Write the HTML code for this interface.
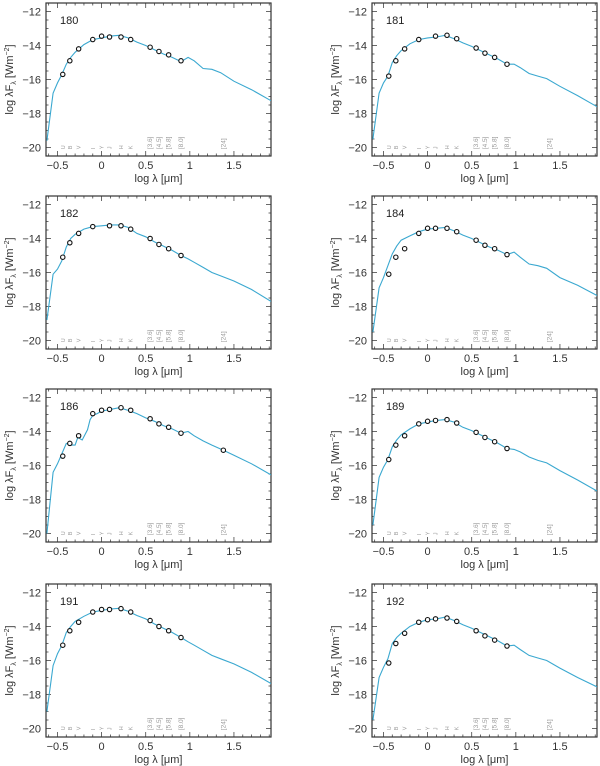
<!DOCTYPE html>
<html><head><meta charset="utf-8">
<style>
html,body{margin:0;padding:0;background:#fff;}
svg{display:block;font-family:"Liberation Sans",sans-serif;}
</style></head>
<body>
<svg id="fig" width="600" height="766" viewBox="0 0 600 766" xmlns="http://www.w3.org/2000/svg"></svg>
<script>
const panelIds = ["180","181","182","184","186","189","191","192"];
const gridX = [-0.62,-0.55,-0.5,-0.45,-0.4,-0.35,-0.3,-0.2,-0.1,0,0.1,0.2,0.3,0.4,0.5,0.6,0.7,0.8,0.9,0.98,1.05,1.15,1.25,1.35,1.5,1.7,1.92];
const gridX186 = [-0.62,-0.55,-0.5,-0.45,-0.4,-0.35,-0.3,-0.27,-0.22,-0.16,-0.13,-0.1,-0.05,0,0.1,0.2,0.3,0.4,0.5,0.6,0.7,0.8,0.9,0.98,1.05,1.15,1.25,1.38,1.5,1.7,1.92];
const curve180 = [-19.6,-16.8,-16.2,-15.7,-15.1,-14.7,-14.4,-13.95,-13.65,-13.55,-13.45,-13.4,-13.55,-13.8,-14.0,-14.25,-14.5,-14.7,-14.95,-14.7,-14.9,-15.35,-15.4,-15.6,-16.1,-16.6,-17.25];
const curve181 = [-19.5,-16.8,-16.2,-15.8,-15.0,-14.6,-14.3,-13.9,-13.65,-13.55,-13.5,-13.4,-13.6,-13.85,-14.05,-14.3,-14.55,-14.8,-15.1,-15.1,-15.3,-15.65,-15.8,-15.95,-16.4,-16.95,-17.6];
const curve182 = [-18.8,-16.1,-15.8,-15.3,-14.5,-14.0,-13.75,-13.45,-13.3,-13.25,-13.2,-13.2,-13.35,-13.7,-13.9,-14.2,-14.45,-14.7,-15.0,-15.2,-15.4,-15.7,-16.0,-16.2,-16.5,-17.0,-17.7];
const curve184 = [-19.5,-16.9,-16.3,-15.6,-14.9,-14.45,-14.1,-13.85,-13.6,-13.45,-13.4,-13.35,-13.55,-13.8,-14.0,-14.25,-14.5,-14.7,-14.95,-14.8,-15.1,-15.5,-15.6,-15.75,-16.3,-16.75,-17.35];
const curve186 = [-20,-16.4,-15.9,-15.3,-14.7,-14.8,-14.8,-14.35,-14.5,-13.9,-13.3,-13.05,-12.95,-12.8,-12.7,-12.6,-12.75,-12.95,-13.2,-13.4,-13.65,-13.85,-14.1,-14.0,-14.25,-14.55,-14.8,-15.1,-15.4,-15.9,-16.55];
const curve189 = [-19.5,-16.7,-16.1,-15.65,-14.9,-14.5,-14.2,-13.85,-13.55,-13.45,-13.35,-13.3,-13.45,-13.75,-13.95,-14.2,-14.45,-14.7,-15.0,-15.05,-15.2,-15.5,-15.7,-15.85,-16.3,-16.85,-17.5];
const curve191 = [-19,-16.3,-15.6,-15.1,-14.35,-14.0,-13.7,-13.4,-13.15,-13.05,-12.97,-12.93,-13.1,-13.35,-13.55,-13.85,-14.1,-14.35,-14.65,-14.9,-15.1,-15.4,-15.7,-15.9,-16.2,-16.7,-17.35];
const curve192 = [-19.5,-17.0,-16.4,-15.9,-15.0,-14.65,-14.4,-14.0,-13.75,-13.6,-13.55,-13.45,-13.65,-13.9,-14.1,-14.35,-14.6,-14.85,-15.15,-15.1,-15.35,-15.7,-15.85,-16.0,-16.45,-17.0,-17.55];
const bandNames = ["U","B","V","I","Y","J","H","K","[3.6]","[4.5]","[5.8]","[8.0]","[24]"];
const bandX = [-0.44,-0.36,-0.26,-0.1,0.0,0.09,0.22,0.33,0.55,0.65,0.76,0.9,1.38];
const phot180 = [-15.7,-14.9,-14.2,-13.65,-13.45,-13.5,-13.5,-13.65,-14.1,-14.35,-14.55,-14.9,null];
const phot181 = [-15.8,-14.9,-14.2,-13.65,null,-13.45,-13.4,-13.6,-14.15,-14.45,-14.7,-15.1,null];
const phot182 = [-15.1,-14.25,-13.7,-13.3,null,-13.25,-13.25,-13.45,-14.0,-14.35,-14.6,-15.0,null];
const phot184 = [-16.1,-15.1,-14.6,-13.7,-13.4,-13.4,-13.4,-13.6,-14.1,-14.4,-14.6,-14.95,null];
const phot186 = [-15.45,-14.7,-14.25,-12.95,-12.75,-12.7,-12.6,-12.75,-13.25,-13.55,-13.75,-14.1,-15.1];
const phot189 = [-15.65,-14.8,-14.25,-13.55,-13.4,-13.35,-13.3,-13.5,-14.05,-14.35,-14.6,-15.0,null];
const phot191 = [-15.1,-14.25,-13.75,-13.15,-13.0,-13.0,-12.95,-13.15,-13.65,-14.0,-14.25,-14.65,null];
const phot192 = [-16.15,-15.0,-14.4,-13.75,-13.6,-13.55,-13.5,-13.7,-14.25,-14.55,-14.8,-15.15,null];
const xTicks = [-0.5,0,0.5,1,1.5];
const xTickLabels = ["\u22120.5","0","0.5","1","1.5"];
const yTicks = [-12,-14,-16,-18,-20];
const yTickLabels = ["\u221212","\u221214","\u221216","\u221218","\u221220"];

const curves = {"180":[gridX,curve180],"181":[gridX,curve181],"182":[gridX,curve182],"184":[gridX,curve184],"186":[gridX186,curve186],"189":[gridX,curve189],"191":[gridX,curve191],"192":[gridX,curve192]};
const phots = {"180":phot180,"181":phot181,"182":phot182,"184":phot184,"186":phot186,"189":phot189,"191":phot191,"192":phot192};

const NS="http://www.w3.org/2000/svg";
const svg=document.getElementById('fig');
const X0=-0.63,X1=1.92,Y0=-11.5,Y1=-20.5,W=225,H=153;
function mk(tag,attrs,parent){const e=document.createElementNS(NS,tag);for(const k in attrs)e.setAttribute(k,attrs[k]);parent.appendChild(e);return e;}

panelIds.forEach((id,i)=>{
  const col=i%2,row=Math.floor(i/2);
  const bx=col===0?46:372, by=[3,196,389,584][row];
  const sx=v=>bx+(v-X0)/(X1-X0)*W;
  const sy=v=>by+(v-Y0)/(Y1-Y0)*H;
  const g=mk('g',{},svg);
  
  
  const clipId='clip'+id;
  const cp=mk('clipPath',{id:clipId},g);
  mk('rect',{x:bx,y:by,width:W,height:H},cp);
  const tk=mk('g',{stroke:'#444','stroke-width':0.8},g);
  
  
  for(let k=-6;k<=19;k++){const v=k/10;if(v<X0||v>X1)continue;const L=(k%5===0)?5:2.5;const x=sx(v);
    mk('line',{x1:x,y1:by+H,x2:x,y2:by+H-L},tk);mk('line',{x1:x,y1:by,x2:x,y2:by+L},tk);}
  for(let k=-41;k<=-23;k++){const v=k/2;if(v>Y0||v<Y1)continue;const L=(k%4===0)?5:2.5;const y=sy(v);
    mk('line',{x1:bx,y1:y,x2:bx+L,y2:y},tk);mk('line',{x1:bx+W,y1:y,x2:bx+W-L,y2:y},tk);}
  const fr=mk('rect',{x:bx,y:by,width:W,height:H,fill:'none',stroke:'#333','stroke-width':1.2},g);
  
  
  xTicks.forEach((v,j)=>{const t=mk('text',{x:sx(v),y:by+H+13,'font-size':11,'text-anchor':'middle',fill:'#333'},g);t.textContent=xTickLabels[j];
    
    });
  yTicks.forEach((v,j)=>{const t=mk('text',{x:bx-5,y:sy(v)+4,'font-size':11,'text-anchor':'end',fill:'#333'},g);t.textContent=yTickLabels[j];
    
    });
  const xl=mk('text',{x:bx+W/2,y:by+H+26,'font-size':11,'text-anchor':'middle',fill:'#333'},g);
  xl.textContent='log \u03bb [\u03bcm]';
  
  
  const yl=mk('text',{x:0,y:0,'font-size':11,'text-anchor':'middle',fill:'#333',transform:`translate(${bx-33},${by+H/2}) rotate(-90)`},g);
  yl.innerHTML='log \u03bbF<tspan font-size="7" dy="3">\u03bb</tspan><tspan dy="-3"> [Wm</tspan><tspan font-size="7" dy="-4">\u22122</tspan><tspan dy="4">]</tspan>';
  
  
  const nm=mk('text',{x:bx+14,y:by+21,'font-size':11,fill:'#222'},g);
  nm.textContent=id;
  
  
  bandNames.forEach((b,j)=>{const x=sx(bandX[j]);const long=b.length>1;
    const t=mk('text',{x:0,y:0,'font-size':long?6.5:5.5,fill:'#999','text-anchor':'start',transform:`translate(${x+2},${sy(-20.1)}) rotate(-90)`},g);
    t.textContent=b;
    
    });
  const [cx,cy]=curves[id];
  const d=cx.map((v,j)=>(j?'L':'M')+sx(v).toFixed(1)+','+sy(cy[j]).toFixed(1)).join(' ');
  const p=mk('path',{d:d,fill:'none',stroke:'#3aa8d0','stroke-width':1.1,'clip-path':`url(#${clipId})`},g);
  
  
  phots[id].forEach((v,j)=>{if(v===null)return;
    const c=mk('circle',{cx:sx(bandX[j]),cy:sy(v),r:2.2,fill:'#fff',stroke:'#111','stroke-width':1.1},g);
    
    });
});
</script>
</body></html>
